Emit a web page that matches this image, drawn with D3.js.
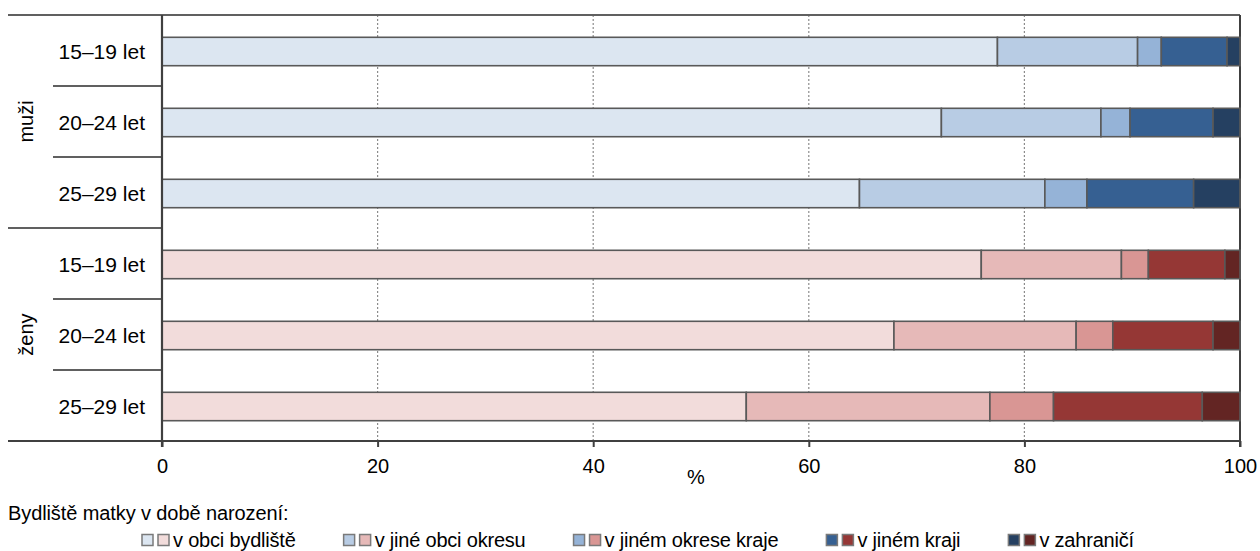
<!DOCTYPE html>
<html><head><meta charset="utf-8">
<script src="https://cdn.jsdelivr.net/npm/d3@7"></script>
<style>
body{margin:0;background:#fff;}
svg text{font-family:"Liberation Sans",Arial,sans-serif;fill:#000;}
</style></head>
<body><svg id="c" width="1260" height="551"></svg>
<script>
// ---- data ----
const genders = ["muži", "ženy"];
const ages = ["15–19 let", "20–24 let", "25–29 let"];
const seriesNames = ["v obci bydliště", "v jiné obci okresu", "v jiném okrese kraje", "v jiném kraji", "v zahraničí"];
const menValues = [
  [77.5, 13.0, 2.2, 6.1, 1.2],
  [72.3, 14.8, 2.7, 7.7, 2.5],
  [64.7, 17.2, 3.9, 9.9, 4.3]
];
const womenValues = [
  [76.0, 13.0, 2.5, 7.1, 1.4],
  [67.9, 16.9, 3.4, 9.3, 2.5],
  [54.2, 22.6, 5.9, 13.8, 3.5]
];
const xTicks = [0, 20, 40, 60, 80, 100];
const blueColors = ["#dce6f1", "#b8cce4", "#95b3d7", "#366092", "#254061"];
const redColors = ["#f2dcdb", "#e6b9b8", "#d99694", "#953735", "#632523"];
const legendTitle = "Bydliště matky v době narození:";
const xTitle = "%";

// ---- layout ----
const svg = d3.select("#c");
const L = 162, R = 1240, T = 15, B = 441;
const FS = 20;
const x = d3.scaleLinear().domain([0, 100]).range([L, R]);
const rows = [];
genders.forEach((g, gi) => ages.forEach((a, ai) => rows.push({g, a, key: g + a, vals: gi === 0 ? menValues[ai] : womenValues[ai], colors: gi === 0 ? blueColors : redColors})));
const y = d3.scaleBand().domain(rows.map(r => r.key)).range([T, B]).paddingInner(0.6).paddingOuter(0.3);
const step = y.step();

// grid
svg.append("g").selectAll("line").data(xTicks.filter(t => t > 0 && t < 100)).join("line")
  .attr("x1", d => x(d)).attr("x2", d => x(d)).attr("y1", T).attr("y2", B)
  .attr("stroke", "#8c8c8c").attr("stroke-width", 1.2).attr("stroke-dasharray", "2,2");

// top border
svg.append("line").attr("x1", 8).attr("x2", R).attr("y1", T).attr("y2", T).attr("stroke", "#606060").attr("stroke-width", 2);
// right border
svg.append("line").attr("x1", R).attr("x2", R).attr("y1", T).attr("y2", B + 6).attr("stroke", "#404040").attr("stroke-width", 2);

// bars
const rowG = svg.append("g").selectAll("g").data(rows).join("g");
rowG.selectAll("rect").data(r => {
  let c = 0;
  return r.vals.map((v, i) => { const s = {x0: c, x1: c + v, color: r.colors[i], key: r.key}; c += v; return s; });
}).join("rect")
  .attr("x", d => x(d.x0)).attr("width", d => x(d.x1) - x(d.x0))
  .attr("y", d => y(d.key) + 1).attr("height", y.bandwidth())
  .attr("fill", d => d.color).attr("stroke", "#595959").attr("stroke-width", 1.6);

// left separators
const seps = [];
for (let i = 0; i <= rows.length; i++) {
  const yy = T + i * step;
  seps.push({yy, full: i % 3 === 0});
}
svg.append("g").selectAll("line").data(seps).join("line")
  .attr("x1", d => d.full ? 8 : 53).attr("x2", L).attr("y1", d => d.yy).attr("y2", d => d.yy)
  .attr("stroke", "#606060").attr("stroke-width", 2);

// left axis
svg.append("line").attr("x1", L).attr("x2", L).attr("y1", T).attr("y2", B + 6).attr("stroke", "#404040").attr("stroke-width", 2.2);

// age labels
svg.append("g").selectAll("text").data(rows).join("text")
  .attr("x", 145).attr("y", d => y(d.key) + 1 + y.bandwidth() / 2).attr("dy", "0.36em")
  .attr("text-anchor", "end").attr("font-size", 21).text(d => d.a);

// gender labels
svg.append("g").selectAll("text").data(genders).join("text")
  .attr("transform", (d, i) => `translate(33,${T + (i * 3 + 1.5) * step}) rotate(-90)`)
  .attr("text-anchor", "middle").attr("font-size", FS).text(d => d);

// x axis
const xAxis = d3.axisBottom(x).tickValues(xTicks).tickSize(6).tickPadding(12).tickFormat(d3.format("d"));
const ax = svg.append("g").attr("transform", `translate(0,${B})`).call(xAxis);
ax.select(".domain").attr("stroke", "#404040").attr("stroke-width", 2.2).attr("d", `M8,0H${R}`);
ax.selectAll(".tick line").attr("stroke", "#404040").attr("stroke-width", 2);
ax.selectAll(".tick text").attr("font-size", FS).attr("font-family", "Liberation Sans, Arial, sans-serif").attr("fill", "#000");

svg.append("text").attr("x", 696).attr("y", 484).attr("text-anchor", "middle").attr("font-size", FS).text(xTitle);

// legend
svg.append("text").attr("x", 8).attr("y", 520).attr("font-size", FS).attr("letter-spacing", "-0.1px").text(legendTitle);
const lg = svg.append("g");
let lx = 142;
const ly = 540;
seriesNames.forEach((name, i) => {
  const sq = 11;
  lg.append("rect").attr("x", lx).attr("y", ly - sq / 2).attr("width", sq).attr("height", sq)
    .attr("fill", blueColors[i]).attr("stroke", "#7a7a7a").attr("stroke-width", 1.5);
  lg.append("rect").attr("x", lx + 16).attr("y", ly - sq / 2).attr("width", sq).attr("height", sq)
    .attr("fill", redColors[i]).attr("stroke", "#7a7a7a").attr("stroke-width", 1.5);
  const t = lg.append("text").attr("x", lx + 31).attr("y", ly).attr("dy", "0.36em")
    .attr("font-size", FS).attr("letter-spacing", "-0.2px").text(name);
  lx = lx + 31 + t.node().getComputedTextLength() + 48;
});
</script></body></html>
